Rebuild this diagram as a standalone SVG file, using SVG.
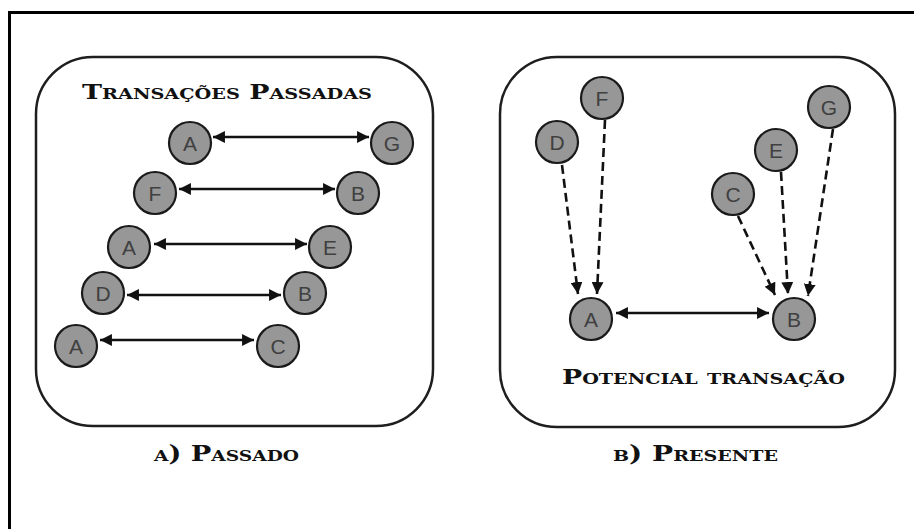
<svg xmlns="http://www.w3.org/2000/svg" width="914" height="529" viewBox="0 0 914 529">
  <style>
    .frame { fill: none; stroke: #000; stroke-width: 3; }
    .panel { fill: #fff; stroke: #1e1e1e; stroke-width: 2.5; }
    .node circle { fill: #979797; stroke: #1a1a1a; stroke-width: 2.2; }
    .node text { font-family: "Liberation Sans", Arial, sans-serif; font-size: 21px; fill: #404040; text-anchor: middle; }
    .link { stroke: #111; stroke-width: 2.6; fill: none; }
    .both { marker-start: url(#head); marker-end: url(#head); }
    .dash { stroke-dasharray: 9 5; marker-end: url(#head); }
    .title { font-family: "DejaVu Serif", "Liberation Serif", serif; font-weight: bold; font-variant: small-caps; fill: #111; }
  </style>
  <defs>
    <marker id="head" viewBox="0 0 10 10" refX="10" refY="5" markerWidth="4.6" markerHeight="4.6" orient="auto-start-reverse" markerUnits="strokeWidth">
      <path d="M0,0 L10,5 L0,10 Z" fill="#111"/>
    </marker>
  </defs>

  <rect width="914" height="529" fill="#fff"/>
  <!-- outer frame: left and top edges -->
  <path class="frame" d="M9.5,529 V12.5 H914"/>

  <!-- panels -->
  <rect class="panel" x="36" y="57" width="397" height="369" rx="57" ry="57"/>
  <rect class="panel" x="500" y="57" width="395" height="370" rx="57" ry="57"/>

  <!-- captions -->
  <text class="title" x="82" y="99" font-size="21" textLength="290" lengthAdjust="spacingAndGlyphs">Transações Passadas</text>
  <text class="title" x="562" y="384" font-size="21" textLength="283" lengthAdjust="spacingAndGlyphs">Potencial transação</text>
  <text class="title" x="154" y="461" font-size="22" textLength="145" lengthAdjust="spacingAndGlyphs">a) Passado</text>
  <text class="title" x="613" y="461" font-size="22" textLength="165" lengthAdjust="spacingAndGlyphs">b) Presente</text>

  <!-- connectors -->
  <g id="connectors">
    <line class="link both" x1="213" y1="137" x2="369" y2="137"/>
    <line class="link both" x1="179" y1="189" x2="335" y2="189"/>
    <line class="link both" x1="154" y1="244" x2="307" y2="244"/>
    <line class="link both" x1="127" y1="295" x2="281" y2="295"/>
    <line class="link both" x1="100" y1="340" x2="254" y2="340"/>
    <line class="link both" x1="616" y1="313" x2="769" y2="313"/>
    <line class="link dash" x1="562" y1="165" x2="578" y2="294"/>
    <line class="link dash" x1="605" y1="120" x2="597" y2="294"/>
    <line class="link dash" x1="738" y1="216" x2="775" y2="295"/>
    <line class="link dash" x1="781" y1="172" x2="788" y2="294"/>
    <line class="link dash" x1="833" y1="129" x2="808" y2="296"/>
  </g>

  <!-- past transactions -->
  <g id="p1-a" class="node"><circle cx="190" cy="143" r="21"/><text x="190" y="151">A</text></g>
  <g id="p1-g" class="node"><circle cx="392" cy="143" r="21"/><text x="392" y="151">G</text></g>
  <g id="p2-f" class="node"><circle cx="155" cy="193" r="21"/><text x="155" y="201">F</text></g>
  <g id="p2-b" class="node"><circle cx="358" cy="193" r="21"/><text x="358" y="201">B</text></g>
  <g id="p3-a" class="node"><circle cx="129" cy="247" r="21"/><text x="129" y="255">A</text></g>
  <g id="p3-e" class="node"><circle cx="330" cy="247" r="21"/><text x="330" y="255">E</text></g>
  <g id="p4-d" class="node"><circle cx="103" cy="293" r="21"/><text x="103" y="301">D</text></g>
  <g id="p4-b" class="node"><circle cx="305" cy="293" r="21"/><text x="305" y="301">B</text></g>
  <g id="p5-a" class="node"><circle cx="76" cy="346" r="21"/><text x="76" y="354">A</text></g>
  <g id="p5-c" class="node"><circle cx="278" cy="346" r="21"/><text x="278" y="354">C</text></g>

  <!-- present -->
  <g id="n-f" class="node"><circle cx="602" cy="98" r="21"/><text x="602" y="106">F</text></g>
  <g id="n-d" class="node"><circle cx="557" cy="142" r="21"/><text x="557" y="150">D</text></g>
  <g id="n-g" class="node"><circle cx="829" cy="107" r="21"/><text x="829" y="115">G</text></g>
  <g id="n-e" class="node"><circle cx="776" cy="150" r="21"/><text x="776" y="158">E</text></g>
  <g id="n-c" class="node"><circle cx="733" cy="194" r="21"/><text x="733" y="202">C</text></g>
  <g id="n-a" class="node"><circle cx="591" cy="319" r="21"/><text x="591" y="327">A</text></g>
  <g id="n-b" class="node"><circle cx="794" cy="319" r="21"/><text x="794" y="327">B</text></g>
</svg>
